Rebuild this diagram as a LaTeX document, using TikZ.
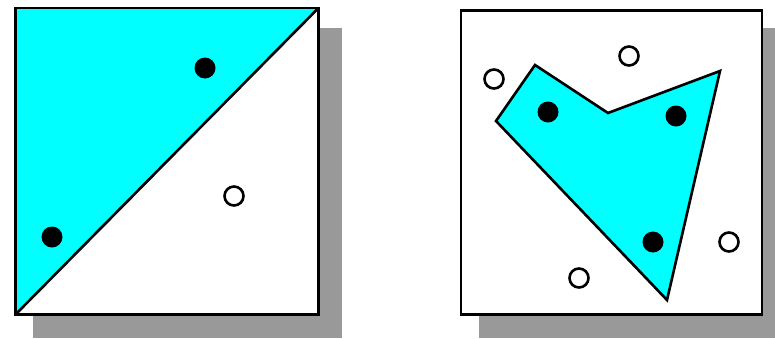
\documentclass[tikz,border=0pt]{standalone}
\usepackage{tikz}
\definecolor{aqua}{RGB}{0,255,255}

\begin{document}
\begin{tikzpicture}[x=1pt,y=-1pt,line width=2.6pt,
  shade/.style={fill=black!40,draw=none},
  dotin/.style={circle,fill=black,draw=none,minimum size=21pt,inner sep=0pt},
  dotout/.style={circle,fill=white,draw=black,line width=2.6pt,minimum size=19pt,inner sep=0pt}]
\clip (0,0) rectangle (775,338);
\path[use as bounding box] (0,0) rectangle (775,338);
% shadows
\fill[shade] (33,28) rectangle (342,338);
\fill[shade] (479,28) rectangle (790,338);
% left square
\fill[white] (15.5,8) rectangle (318.5,314.5);
\fill[aqua] (15.5,314.5) -- (15.5,8) -- (318.5,8) -- cycle;
\draw (15.5,8) rectangle (318.5,314.5);
\draw (15.5,314.5) -- (318.5,8);
\node[dotin] (a1) at (205,68) {};
\node[dotin] (a2) at (52,237) {};
\node[dotout] (a3) at (234,196) {};
% right square
\draw[fill=white] (461,10.5) rectangle (762,314.5);
\draw[fill=aqua,line join=miter] (535,65) -- (608,113) -- (720,71) -- (667,300) -- (496,121) -- cycle;
\node[dotin] (b1) at (548,112) {};
\node[dotin] (b2) at (676,116) {};
\node[dotin] (b3) at (653,242) {};
\node[dotout] (b4) at (494,79) {};
\node[dotout] (b5) at (629,56) {};
\node[dotout] (b6) at (729,242) {};
\node[dotout] (b7) at (579,278) {};
\end{tikzpicture}
\end{document}
